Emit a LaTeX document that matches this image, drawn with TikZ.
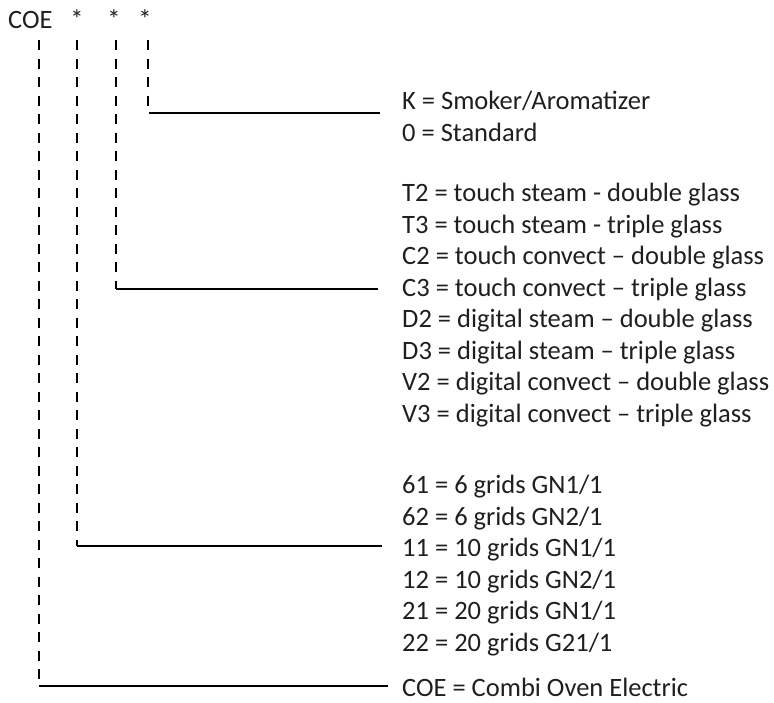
\documentclass[tikz,border=0pt]{standalone}
\usepackage{fontspec}
\setmainfont{Carlito}
\begin{document}
\begin{tikzpicture}[x=1pt,y=-1pt,
  lbl/.style={anchor=base west,inner sep=0pt,font=\fontsize{26.5}{31}\selectfont,text=black!88},
  hdr/.style={anchor=base,inner sep=0pt,font=\fontsize{26.5}{31}\selectfont,text=black!88},
  lead/.style={line width=2.6pt,dash pattern=on 10pt off 8.5pt},
  bar/.style={line width=2.2pt}]
\useasboundingbox (0,0) rectangle (774,702);
% header
\node[hdr,anchor=base west] (coe) at (8,28) {COE};
\node[hdr] (s1) at (77,28) {*};
\node[hdr] (s2) at (114,28) {*};
\node[hdr] (s3) at (145,28) {*};
% legend texts
\node[lbl] (k)  at (402,109.5) {K = Smoker/Aromatizer};
\node[lbl] (o)  at (402,141) {0 = Standard};
\node[lbl] (t2) at (402,201.5) {T2 = touch steam - double glass};
\node[lbl] (t3) at (402,233) {T3 = touch steam - triple glass};
\node[lbl] (c2) at (402,264.5) {C2 = touch convect – double glass};
\node[lbl] (c3) at (402,296) {C3 = touch convect – triple glass};
\node[lbl] (d2) at (402,327.5) {D2 = digital steam – double glass};
\node[lbl] (d3) at (402,359) {D3 = digital steam – triple glass};
\node[lbl] (v2) at (402,390.5) {V2 = digital convect – double glass};
\node[lbl] (v3) at (402,422) {V3 = digital convect – triple glass};
\node[lbl] (g61) at (402,493.5) {61 = 6 grids GN1/1};
\node[lbl] (g62) at (402,525) {62 = 6 grids GN2/1};
\node[lbl] (g11) at (402,556.5) {11 = 10 grids GN1/1};
\node[lbl] (g12) at (402,588) {12 = 10 grids GN2/1};
\node[lbl] (g21) at (402,619.5) {21 = 20 grids GN1/1};
\node[lbl] (g22) at (402,651) {22 = 20 grids G21/1};
\node[lbl] (coel) at (402,696.5) {COE = Combi Oven Electric};
% connector coordinates
\coordinate (a0) at (39,40);  \coordinate (a1) at (39,686);  \coordinate (a2) at (388,686);
\coordinate (b0) at (77,40);  \coordinate (b1) at (77,546);  \coordinate (b2) at (382,546);
\coordinate (c0) at (116,40); \coordinate (c1) at (116,289); \coordinate (c2e) at (378,289);
\coordinate (d0) at (148,40); \coordinate (d1) at (148,113); \coordinate (d1b) at (149,113); \coordinate (d2e) at (380,113);
\draw[lead] (a0) -- (a1);
\draw[lead] (b0) -- (b1);
\draw[lead] (c0) -- (c1);
\draw[lead] (d0) -- (d1);
\draw[bar] (a1) -- (a2);
\draw[bar] (b1) -- (b2);
\draw[bar] (c1) -- (c2e);
\draw[bar] (d1b) -- (d2e);
\end{tikzpicture}
\end{document}
